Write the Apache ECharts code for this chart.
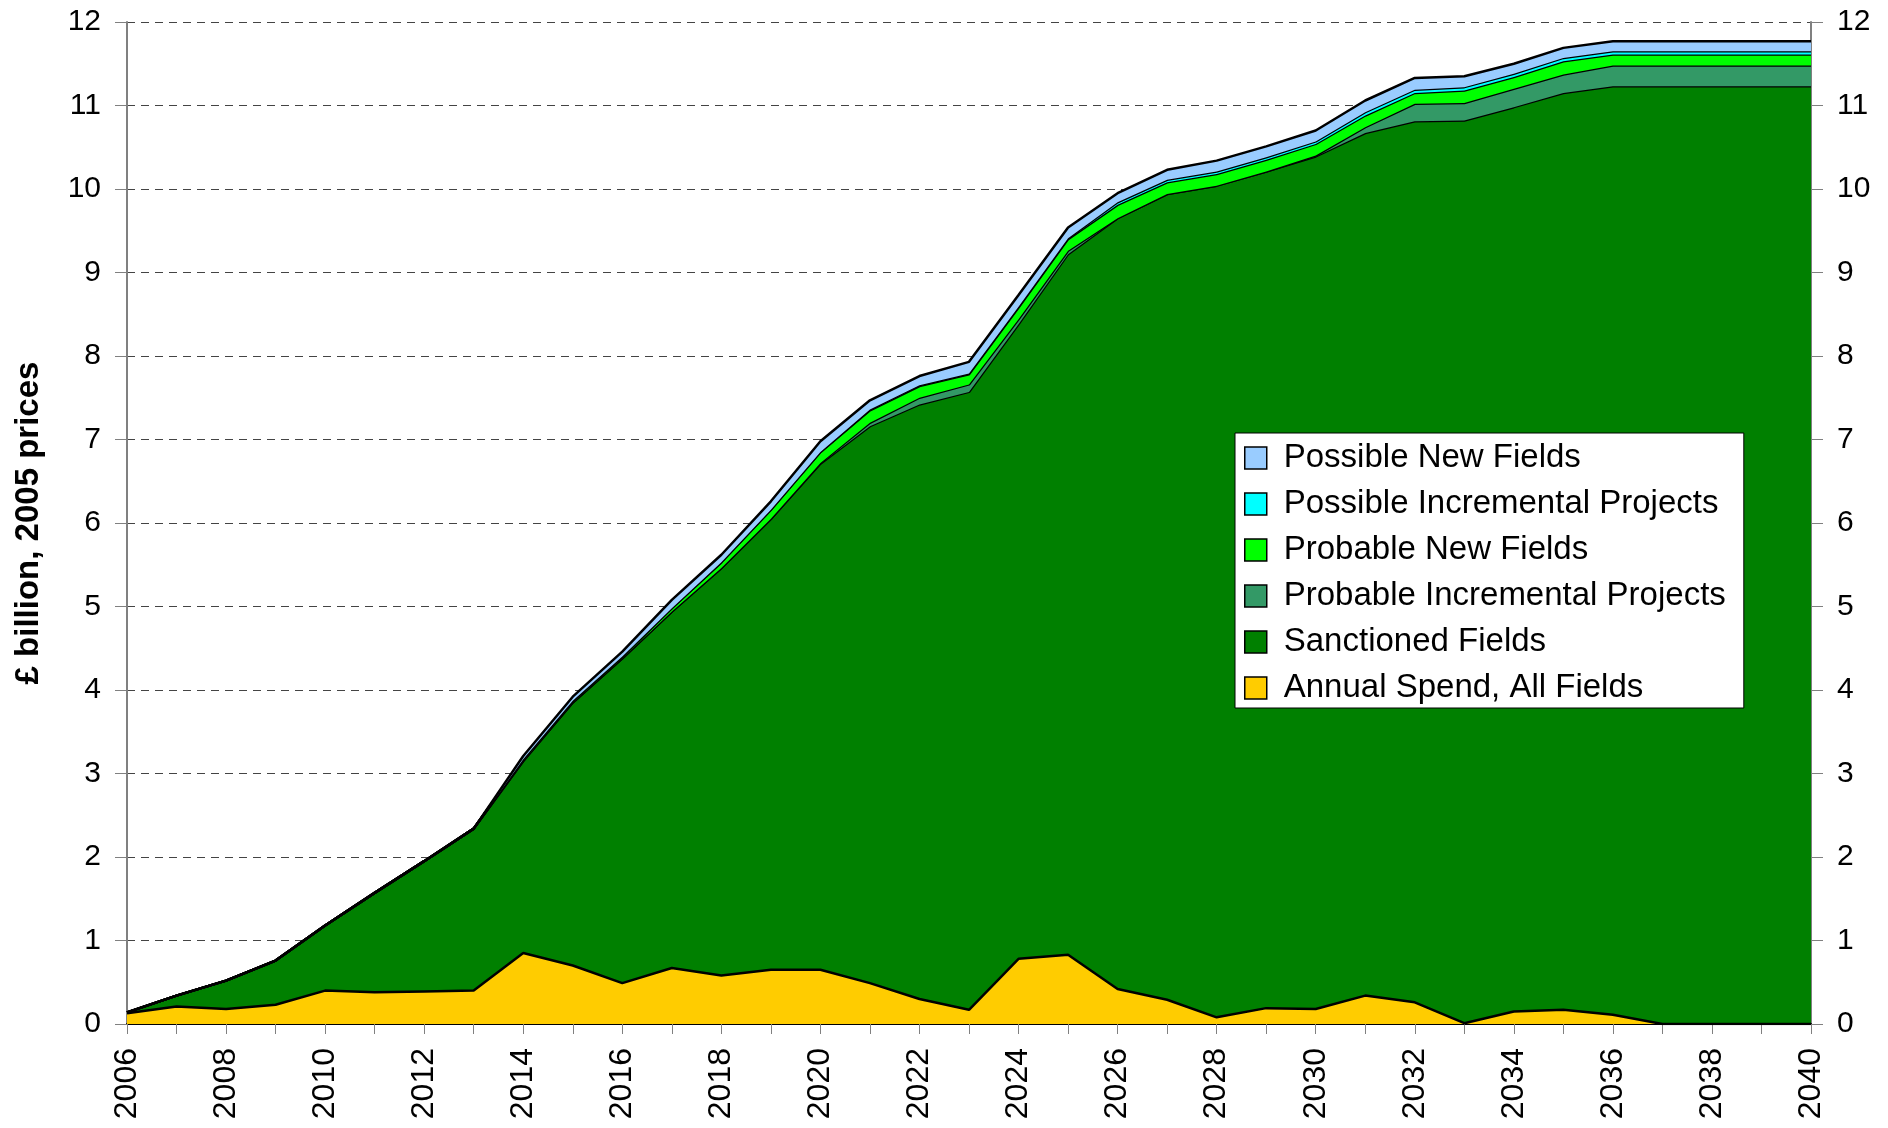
<!DOCTYPE html>
<html>
<head>
<meta charset="utf-8">
<title>Cumulative spend</title>
<script src="https://cdn.jsdelivr.net/npm/echarts@6/dist/echarts.min.js"></script>
<style>
  html, body { margin: 0; padding: 0; background: #fff; }
  #chart { width: 1888px; height: 1128px; }
</style>
</head>
<body>
<div id="chart"></div>
<script>
// years on the x axis
const years = [];
for (let y = 2006; y <= 2040; y++) years.push(String(y));

// cumulative spend, £ billion (stacked layers, bottom to top)
const sanctioned = [0.14,0.34,0.52,0.76,1.18,1.57,1.95,2.34,3.15,3.85,4.38,4.94,5.46,6.05,6.71,7.16,7.42,7.57,8.38,9.22,9.65,9.94,10.04,10.21,10.39,10.67,10.81,10.82,10.98,11.15,11.23,11.23,11.23,11.23,11.23];
const probIncr = [0,0,0,0,0,0,0,0,0,0,0,0,0,0,0.01,0.04,0.08,0.09,0.06,0.04,0,0,0,0,0.01,0.07,0.21,0.21,0.22,0.22,0.25,0.25,0.25,0.25,0.25];
const probNew = [0,0,0,0,0,0,0,0,0.02,0.02,0.02,0.04,0.07,0.11,0.13,0.15,0.14,0.12,0.14,0.14,0.16,0.14,0.14,0.14,0.14,0.14,0.13,0.15,0.14,0.16,0.13,0.13,0.13,0.13,0.13];
const possIncr = [0,0,0,0,0,0,0,0,0,0,0,0,0,0,0,0.01,0.01,0.01,0.01,0.01,0.03,0.03,0.03,0.03,0.03,0.04,0.04,0.04,0.04,0.04,0.04,0.04,0.04,0.04,0.04];
const possNew = [0,0,0,0,0,0,0,0,0.04,0.05,0.06,0.1,0.09,0.1,0.13,0.11,0.11,0.14,0.14,0.13,0.11,0.12,0.13,0.13,0.13,0.14,0.14,0.13,0.12,0.12,0.12,0.12,0.12,0.12,0.12];

// annual spend, drawn in front (not stacked)
const annual = [0.13,0.21,0.18,0.23,0.40,0.38,0.39,0.40,0.85,0.70,0.49,0.67,0.58,0.65,0.65,0.49,0.30,0.17,0.78,0.83,0.42,0.29,0.08,0.19,0.18,0.34,0.26,0.01,0.15,0.17,0.11,0,0,0,0];

const font = "'Liberation Sans', Arial, sans-serif";

function layer(name, data, color, stacked, z) {
  return {
    name: name,
    type: 'line',
    stack: stacked ? 'cum' : undefined,
    data: data,
    showSymbol: false,
    symbol: 'none',
    z: z,
    lineStyle: { color: '#000', width: 2.5 },
    itemStyle: { color: color, borderColor: '#000' },
    areaStyle: { color: color, opacity: 1 },
    emphasis: { disabled: true }
  };
}

function legendItem(name, color) {
  return { name: name, icon: 'rect', itemStyle: { color: color, borderColor: '#000', borderWidth: 1.5 } };
}

const option = {
  animation: false,
  backgroundColor: '#fff',
  grid: { left: 127, right: 77, top: 22, bottom: 104 },
  legend: {
    orient: 'vertical',
    left: 1235,
    top: 433,
    padding: [7, 18, 2, 9],
    backgroundColor: '#fff',
    borderColor: '#000',
    borderWidth: 1,
    itemWidth: 22,
    itemHeight: 22,
    itemGap: 10,
    selectedMode: false,
    lineStyle: { width: 0 },
    textStyle: { fontFamily: font, fontSize: 33, color: '#000', lineHeight: 36, padding: [0, 0, 0, 12] },
    data: [
      legendItem('Possible New Fields', '#99ccff'),
      legendItem('Possible Incremental Projects', '#00ffff'),
      legendItem('Probable New Fields', '#00ff00'),
      legendItem('Probable Incremental Projects', '#339966'),
      legendItem('Sanctioned Fields', '#008000'),
      legendItem('Annual Spend, All Fields', '#ffcc00')
    ]
  },
  xAxis: {
    type: 'category',
    data: years,
    boundaryGap: false,
    axisLine: { lineStyle: { color: '#000', width: 2 } },
    axisTick: { show: true, interval: 0, length: 10, lineStyle: { color: '#808080' } },
    axisLabel: { interval: 1, rotate: 90, margin: 24, fontFamily: font, fontSize: 32, color: '#000' },
    splitLine: { show: false }
  },
  yAxis: [
    {
      type: 'value',
      min: 0, max: 12, interval: 1,
      name: '£ billion, 2005 prices',
      nameLocation: 'middle',
      nameGap: 82,
      nameTextStyle: { fontFamily: font, fontSize: 33, fontWeight: 'bold', color: '#000' },
      axisLine: { show: true, lineStyle: { color: '#808080', width: 2 } },
      axisTick: { show: true, length: 12, lineStyle: { color: '#808080' } },
      axisLabel: { margin: 26, fontFamily: font, fontSize: 30, color: '#000' },
      splitLine: { show: true, lineStyle: { color: '#444', type: [8, 6], width: 1.2 } }
    },
    {
      type: 'value',
      position: 'right',
      min: 0, max: 12, interval: 1,
      axisLine: { show: true, lineStyle: { color: '#808080', width: 2 } },
      axisTick: { show: true, length: 12, lineStyle: { color: '#808080' } },
      axisLabel: { margin: 26, fontFamily: font, fontSize: 30, color: '#000' },
      splitLine: { show: false }
    }
  ],
  series: [
    layer('Sanctioned Fields', sanctioned, '#008000', true, 2),
    layer('Probable Incremental Projects', probIncr, '#339966', true, 3),
    layer('Probable New Fields', probNew, '#00ff00', true, 4),
    layer('Possible Incremental Projects', possIncr, '#00ffff', true, 5),
    layer('Possible New Fields', possNew, '#99ccff', true, 6),
    layer('Annual Spend, All Fields', annual, '#ffcc00', false, 7)
  ]
};

const chart = echarts.init(document.getElementById('chart'));
chart.setOption(option);
</script>
</body>
</html>
